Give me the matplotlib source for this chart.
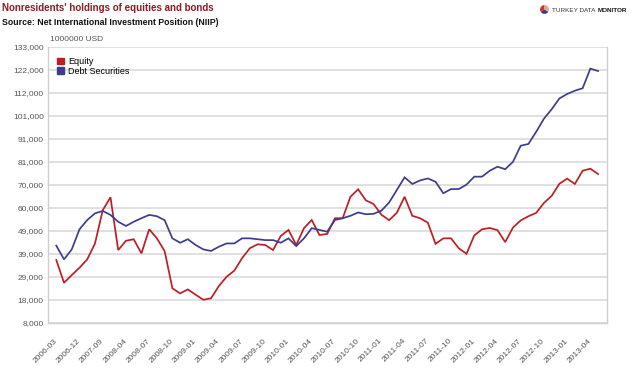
import matplotlib
matplotlib.use("Agg")
import matplotlib.pyplot as plt
import matplotlib.transforms as mtransforms
from matplotlib.patches import Patch

# data, million USD (1000000 USD)
# quarterly 2006-03 .. 2008-03, then monthly 2008-04 .. 2013-05
quarters = ["2006-03", "2006-06", "2006-09", "2006-12",
            "2007-03", "2007-06", "2007-09", "2007-12", "2008-03"]
months = []
for y in range(2008, 2014):
    for m in range(1, 13):
        if (y == 2008 and m < 4) or (y == 2013 and m > 5):
            continue
        months.append("%d-%02d" % (y, m))
dates = quarters + months

equity = [36500, 26200, 29700, 33000, 36800, 44000, 59000, 64900, 41000, 45200,
          45900, 39500, 50400, 46300, 40500, 23700, 21400, 23200, 20800, 18500,
          19200, 24700, 28900, 31700, 37300, 41800, 43600, 43300, 41000, 47400,
          50100, 43300, 50900, 54600, 47800, 48300, 55400, 55400, 65100, 68500,
          63500, 61800, 57000, 54500, 57900, 65100, 56500, 55400, 53400, 43800,
          46300, 46300, 41800, 39300, 47600, 50400, 51000, 50000, 44600, 51200,
          54400, 56300, 57800, 62300, 65500, 71000, 73300, 70900, 76900, 77800,
          75400]

debt = [43000, 36800, 41300, 50400, 54600, 57600, 58700, 56900, 53800, 51900,
        53800, 55400, 56900, 56300, 54500, 46300, 44300, 45900, 43300, 41300,
        40600, 42500, 44000, 44000, 46300, 46300, 45900, 45500, 45500, 44300,
        46300, 42800, 46300, 50900, 50100, 49300, 54600, 55400, 56500, 58000,
        57200, 57400, 58800, 62500, 68200, 73900, 70900, 72500, 73400, 71900,
        66700, 68600, 68600, 70600, 74200, 74200, 76900, 78700, 77600, 80900,
        88200, 89000, 94500, 100400, 104700, 109600, 111600, 113100, 114200, 123100,
        122000]

ytick_labels = ["8,000", "18,000", "29,000", "39,000", "49,000", "60,000", "70,000",
                "81,000", "91,000", "101,000", "112,000", "122,000", "133,000"]

red = "#BE1E23"
blue = "#3D3D8E"
grey_txt = "#555555"

plt.rcParams['font.family'] = ['Liberation Sans', 'DejaVu Sans']

fig = plt.figure(figsize=(6.35, 3.69), dpi=100)
W, H = 635.0, 369.0
ax = fig.add_axes([48/W, 1-323/H, (607-48)/W, (323-46.7)/H])

x = list(range(len(dates)))
ax.plot(x, equity, color=red, lw=1.25, solid_joinstyle='miter', zorder=3)
ax.plot(x, debt, color=blue, lw=1.25, solid_joinstyle='miter', zorder=3)

ax.set_xlim(-1.07, 71.15)
ax.set_ylim(8000, 133000)

# 12 even steps, labels as printed on the chart
ystep = (133000 - 8000) / 12.0
yt = [8000 + i*ystep for i in range(13)]
ax.set_yticks(yt)
ax.set_yticklabels(ytick_labels)
ax.grid(axis='y', color='#DADADA', lw=1.2)
ax.set_axisbelow(True)

xt = list(range(0, len(dates) - 1, 3))
ax.set_xticks(xt)
ax.set_xticklabels([dates[i] for i in xt], rotation=45, ha='right', va='center',
                   rotation_mode='anchor')
offset = mtransforms.ScaledTranslation(5/72., 0, fig.dpi_scale_trans)
for lab in ax.get_xticklabels():
    lab.set_transform(lab.get_transform() + offset)

ax.tick_params(axis='both', length=0, labelsize=6, labelcolor=grey_txt)
ax.tick_params(axis='y', pad=3)
ax.tick_params(axis='x', pad=12)

for s in ['left', 'bottom', 'right']:
    ax.spines[s].set_color('#CFCFCF')
    ax.spines[s].set_linewidth(1.0)
ax.spines['top'].set_visible(False)

# legend
handles = [Patch(color=red, label='Equity'), Patch(color=blue, label='Debt Securities')]
ax.legend(handles=handles, loc='upper left', bbox_to_anchor=(0.005, 0.985), frameon=False,
          fontsize=6.5, handlelength=0.8, handleheight=0.8, handletextpad=0.4,
          labelspacing=0.05, borderaxespad=0.3)

# titles
fig.text(2/W, 1-11/H, "Nonresidents' holdings of equities and bonds", color='#8E1B22',
         fontsize=7.0, fontweight='bold', va='baseline')
fig.text(2/W, 1-25/H, "Source: Net International Investment Position (NIIP)", color='#111111',
         fontsize=6.3, fontweight='bold', va='baseline')
fig.text(50/W, 1-41/H, "1000000 USD", color=grey_txt, fontsize=6, va='baseline')

# logo
lax = fig.add_axes([539/W, 1-15/H, 11/W, 11/H])
lax.pie([1, 1, 1], colors=['#C0392B', '#3D3D8E', '#E8A0A0'], startangle=90)
lax.set_aspect('equal')
fig.text(552/W, 1-12/H, "TURKEY DATA", color='#333333', fontsize=4.6, va='baseline')
fig.text(598/W, 1-12/H, "MONITOR", color='#111111', fontsize=4.6, fontweight='bold',
         va='baseline')

fig.savefig("out.png", dpi=100)
